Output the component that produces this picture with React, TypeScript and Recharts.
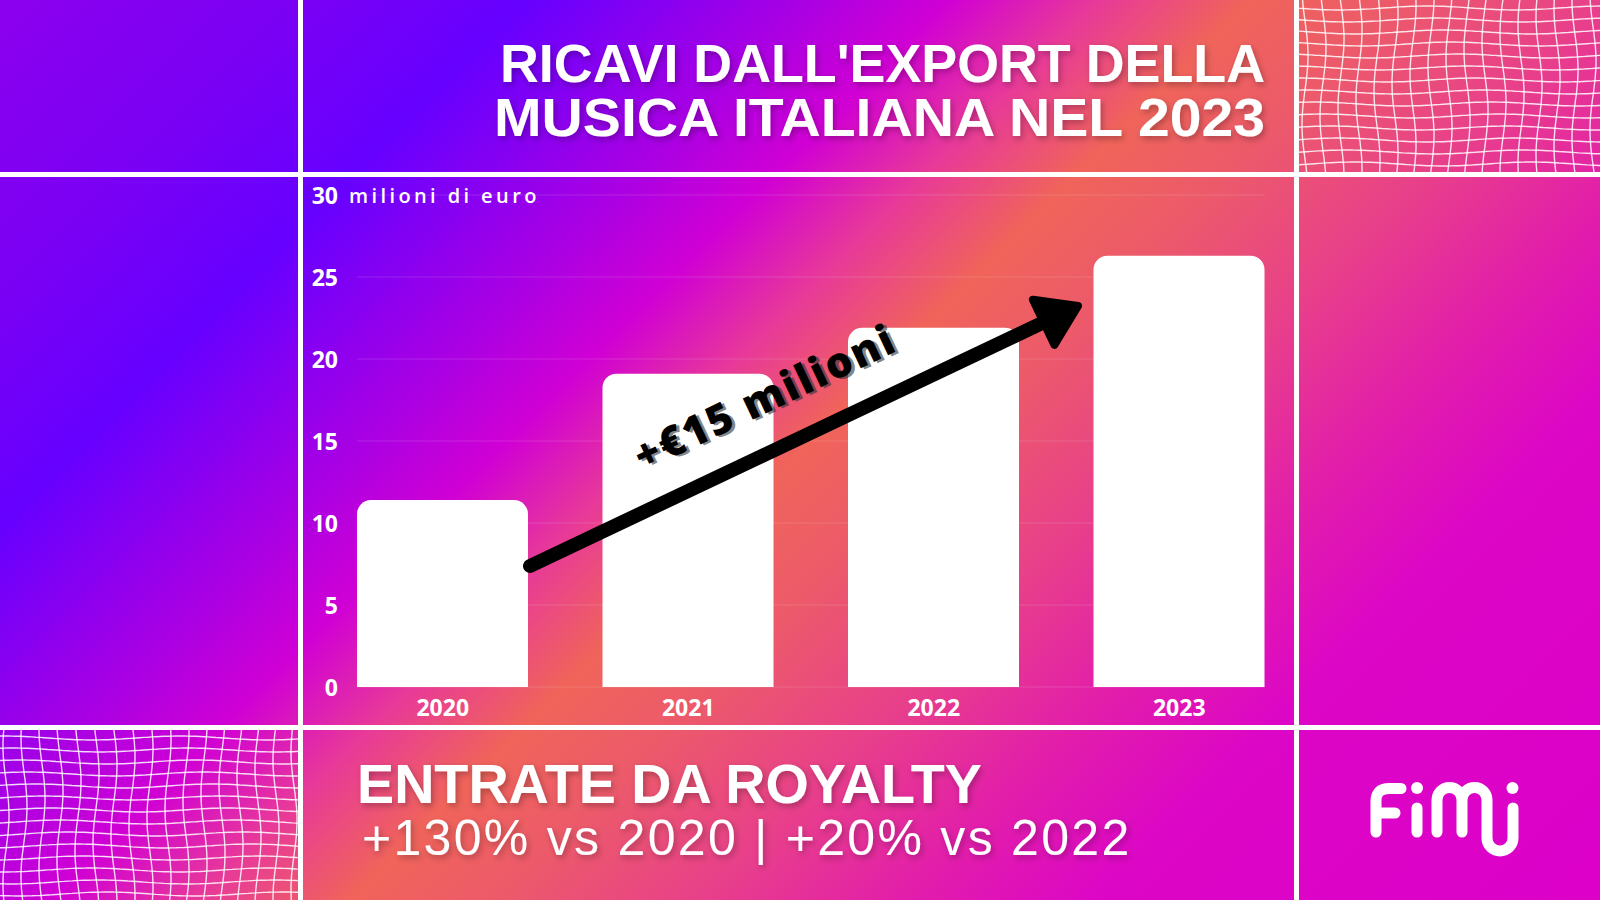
import React from "react";
import { Bar, BarChart, CartesianGrid, XAxis, YAxis } from "recharts";

const years = ["2020", "2021", "2022", "2023"];
const revenue = [11.4, 19.1, 21.9, 26.3];
const yTicks = [0, 5, 10, 15, 20, 25, 30];
const unitLabel = "milioni di euro";
const titleLines = ["RICAVI DALL'EXPORT DELLA", "MUSICA ITALIANA NEL 2023"];
const footerTitle = "ENTRATE DA ROYALTY";
const footerSub = "+130% vs 2020 | +20% vs 2022";
const arrowLabel = "+€15 milioni";

const data = years.map((year, i) => ({ year, value: revenue[i] }));

const W = 1600;
const H = 900;

const bg =
  "linear-gradient(135deg, #8c00ee 0%, #7a00f4 12%, #6600ff 21%, #a800e4 32%, #d000d4 38%, #e83a98 44%, #f0645a 50%, #ec5a6a 56%, #e8408a 64%, #e21eaa 72%, #dc06c6 80%, #dc00c8 100%)";

function YTick(props: any) {
  const { x, y, payload } = props;
  const v = payload.value;
  return (
    <g>
      <text
        x={x}
        y={y}
        dy="0.38em"
        fill="#fff"
        fontFamily="'Open Sans'"
        fontSize={23}
        fontWeight={700}
        textAnchor="end"
      >
        {v}
      </text>
      {v === 30 && (
        <text
          x={x + 11}
          y={y}
          dy="0.38em"
          fill="#fff"
          fontFamily="'Open Sans'"
          fontSize={20}
          fontWeight={600}
          letterSpacing={3.4}
          textAnchor="start"
        >
          {unitLabel}
        </text>
      )}
    </g>
  );
}

function XTick(props: any) {
  const { x, y, payload } = props;
  return (
    <text
      x={x}
      y={y + 21}
      dy="0.36em"
      fill="#fff"
      fontFamily="'Open Sans'"
      fontSize={23}
      fontWeight={700}
      textAnchor="middle"
    >
      {payload.value}
    </text>
  );
}

// wavy mesh decoration for the two corner panels
function WaveGrid({ x, y, w, h, id }: { x: number; y: number; w: number; h: number; id: string }) {
  const paths: string[] = [];
  for (let cx = x + 6; cx < x + w + 10; cx += 18) {
    let d = "";
    for (let yy = y - 4; yy <= y + h + 4; yy += 4) {
      const px = cx + 3 * Math.sin(yy / 22 + cx * 0.37);
      d += (d ? " L" : "M") + px.toFixed(1) + " " + yy;
    }
    paths.push(d);
  }
  for (let cy = y + 8; cy < y + h + 6; cy += 12) {
    let d = "";
    for (let xx = x - 4; xx <= x + w + 4; xx += 4) {
      const py = cy + 2 * Math.sin(xx / 28 + cy * 0.5);
      d += (d ? " L" : "M") + xx + " " + py.toFixed(1);
    }
    paths.push(d);
  }
  return (
    <g clipPath={`url(#${id})`}>
      <defs>
        <clipPath id={id}>
          <rect x={x} y={y} width={w} height={h} />
        </clipPath>
      </defs>
      {paths.map((d, i) => (
        <path key={i} d={d} fill="none" stroke="rgba(255,255,255,0.85)" strokeWidth={1.4} />
      ))}
    </g>
  );
}

export default function App() {
  const arrowStart = { x: 530, y: 566 };
  const tip = { x: 1078, y: 306 };
  const ang = Math.atan2(tip.y - arrowStart.y, tip.x - arrowStart.x);
  const ux = Math.cos(ang);
  const uy = Math.sin(ang);
  const base = { x: tip.x - 38 * ux, y: tip.y - 38 * uy };
  const c1 = { x: base.x - 25 * uy, y: base.y + 25 * ux };
  const c2 = { x: base.x + 25 * uy, y: base.y - 25 * ux };
  const labelAngle = (ang * 180) / Math.PI;
  const lx = 764;
  const ly = 396;

  return (
    <div style={{ position: "fixed", left: 0, top: 0, width: W, height: H, background: bg, overflow: "hidden" }}>
      <svg width={W} height={H} style={{ position: "absolute", left: 0, top: 0 }}>
        <WaveGrid x={1299} y={0} w={301} h={172} id="clipTR" />
        <WaveGrid x={0} y={730} w={298} h={170} id="clipBL" />
        <rect x={298} y={0} width={5} height={H} fill="#fff" />
        <rect x={1294} y={0} width={5} height={H} fill="#fff" />
        <rect x={0} y={172} width={W} height={5} fill="#fff" />
        <rect x={0} y={725} width={W} height={5} fill="#fff" />
      </svg>

      <div style={{ position: "absolute", left: 0, top: 0 }}>
        <BarChart width={W} height={H} data={data} margin={{ top: 195, right: 335, bottom: 173, left: 0 }}>
          <CartesianGrid vertical={false} stroke="rgba(255,255,255,0.14)" />
          <XAxis
            dataKey="year"
            axisLine={false}
            tickLine={false}
            tickSize={0}
            tickMargin={0}
            height={40}
            interval={0}
            padding={{ left: -37, right: -37 }}
            tick={<XTick />}
          />
          <YAxis
            domain={[0, 30]}
            ticks={yTicks}
            width={357}
            axisLine={false}
            tickLine={false}
            tickSize={0}
            tickMargin={19}
            tick={<YTick />}
          />
          <Bar dataKey="value" fill="#ffffff" barSize={171} radius={[14, 14, 0, 0]} isAnimationActive={false} />
        </BarChart>
      </div>

      <svg width={W} height={H} style={{ position: "absolute", left: 0, top: 0 }}>
        <defs>
          <filter id="txtShadow" x="-10%" y="-30%" width="120%" height="160%">
            <feDropShadow dx="2" dy="3" stdDeviation="3" floodColor="#000" floodOpacity="0.28" />
          </filter>
        </defs>

        {/* growth arrow */}
        <line
          x1={arrowStart.x}
          y1={arrowStart.y}
          x2={base.x}
          y2={base.y}
          stroke="#000"
          strokeWidth={14}
          strokeLinecap="round"
        />
        <polygon
          points={`${tip.x},${tip.y} ${c1.x},${c1.y} ${c2.x},${c2.y}`}
          fill="#000"
          stroke="#000"
          strokeWidth={8}
          strokeLinejoin="round"
        />
        <g transform={`rotate(${labelAngle} ${lx} ${ly})`}>
          <text
            x={lx + 2.5}
            y={ly + 2.5}
            textAnchor="middle"
            dominantBaseline="central"
            fontFamily="'Open Sans'"
            fontWeight={800}
            fontSize={42}
            letterSpacing={2}
            fill="rgba(50,50,50,0.6)"
          >
            {arrowLabel}
          </text>
          <text
            x={lx}
            y={ly}
            textAnchor="middle"
            dominantBaseline="central"
            fontFamily="'Open Sans'"
            fontWeight={800}
            fontSize={42}
            letterSpacing={2}
            fill="#000"
          >
            {arrowLabel}
          </text>
        </g>

        {/* title and footer */}
        <g filter="url(#txtShadow)" fontFamily="'Liberation Sans', Arial, sans-serif" fontWeight={700} fill="#fff">
          <text x={500} y={82} fontSize={54} textLength={765} lengthAdjust="spacingAndGlyphs">
            {titleLines[0]}
          </text>
          <text x={494} y={136} fontSize={54} textLength={771} lengthAdjust="spacingAndGlyphs">
            {titleLines[1]}
          </text>
          <text x={357} y={803} fontSize={55} textLength={625} lengthAdjust="spacingAndGlyphs">
            {footerTitle}
          </text>
          <text x={362} y={855} fontSize={50} fontWeight={400} letterSpacing={2.3}>
            {footerSub}
          </text>
        </g>

        {/* fimi logo */}
        <g fill="none" stroke="#fff" strokeWidth={11} strokeLinecap="round" strokeLinejoin="round">
          <path d="M1376 832 V801 Q1376 788.5 1389 788.5 H1401 M1376 813 H1395" />
          <path d="M1417 808 V832" />
          <path d="M1437 832 V800 A12.5 12.5 0 0 1 1462 800 V832 M1462 800 A12.5 12.5 0 0 1 1487 800 V838 A13 13 0 0 0 1513 838 V808" />
        </g>
        <circle cx={1417} cy={788} r={6} fill="#fff" />
        <circle cx={1512.5} cy={788} r={6} fill="#fff" />
      </svg>
    </div>
  );
}
